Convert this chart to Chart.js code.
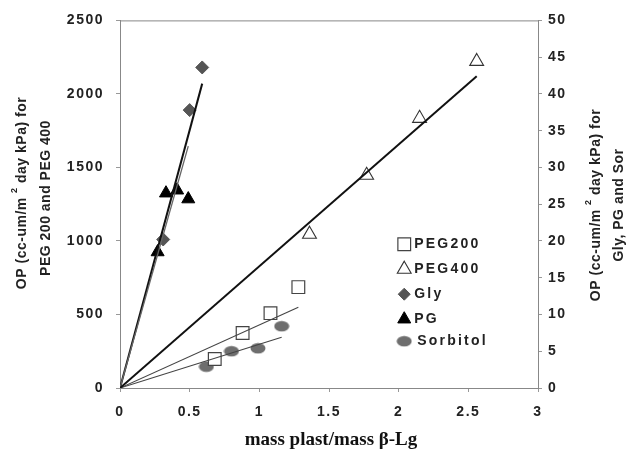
<!DOCTYPE html>
<html>
<head>
<meta charset="utf-8">
<script src="https://cdn.jsdelivr.net/npm/chart.js@4"></script>
<style>
  html, body { margin: 0; padding: 0; background: #fff; }
  #wrap { width: 629px; height: 460px; }
</style>
</head>
<body>
<div id="wrap"><canvas id="myChart" width="629" height="460"></canvas></div>
<script>
// values
const xPeg200 = [0.68, 0.88, 1.08, 1.28];
const yPeg200 = [197, 374, 509, 686];
const xPeg400 = [1.36, 1.77, 2.15, 2.56];
const yPeg400 = [1046, 1447, 1834, 2221];
const xGly = [0.31, 0.50, 0.59];
const yGly = [20.2, 37.8, 43.6];
const xPg = [0.27, 0.33, 0.41, 0.49];
const yPg = [18.5, 26.5, 26.9, 25.7];
const xSor = [0.62, 0.80, 0.99, 1.16];
const ySor = [2.9, 5.0, 5.4, 8.4];

// fitted lines (start at origin)
const fitPeg200 = [[0, 0], [1.28, 550]];
const fitPeg400 = [[0, 0], [2.56, 2120]];
const fitGly = [[0, 0], [0.59, 41.4]];
const fitPg = [[0, 0], [0.49, 32.9]];
const fitSor = [[0, 0], [1.16, 6.9]];

const legendNames = ["PEG200", "PEG400", "Gly", "PG", "Sorbitol"];

const toPts = (xs, ys) => xs.map((x, i) => ({ x: x, y: ys[i] }));
const fitPts = (f) => f.map(p => ({ x: p[0], y: p[1] }));

// ellipse marker for sorbitol
const ell = document.createElement("canvas");
ell.width = 16; ell.height = 12;
const ec = ell.getContext("2d");
ec.fillStyle = "#6e6e6e";
ec.beginPath();
ec.ellipse(8, 6, 7.5, 5.3, 0, 0, Math.PI * 2);
ec.fill();

const tickFont = { family: "Liberation Sans", size: 14, weight: "bold" };

const markerStyles = [
  { pointStyle: "rect", radius: 9, rotation: 0, borderWidth: 1.2, fill: "#fff", stroke: "#444" },
  { pointStyle: "triangle", radius: 8, rotation: 0, borderWidth: 1.1, fill: "#fff", stroke: "#333" },
  { pointStyle: "rectRot", radius: 6, rotation: 0, borderWidth: 1, fill: "#555", stroke: "#555" },
  { pointStyle: "triangle", radius: 7.5, rotation: 0, borderWidth: 1, fill: "#000", stroke: "#000" },
  { pointStyle: ell, radius: 7, rotation: 0, borderWidth: 0, fill: "#6e6e6e", stroke: "#6e6e6e" },
];

// rotated (reading upwards) title line with a superscript "2"
function titleLine(ctx, cx, cy, parts) {
  const big = "bold 14px 'Liberation Sans'";
  const small = "bold 9px 'Liberation Sans'";
  let w = 0;
  parts.forEach(p => { ctx.font = p.sup ? small : big; w += ctx.measureText(p.t).width; });
  ctx.save();
  ctx.translate(cx, cy);
  ctx.rotate(-Math.PI / 2);
  ctx.textAlign = "left";
  ctx.textBaseline = "middle";
  let x = -w / 2;
  parts.forEach(p => {
    ctx.font = p.sup ? small : big;
    ctx.fillText(p.t, x, p.sup ? -7 : 0);
    x += ctx.measureText(p.t).width;
  });
  ctx.restore();
}

const line1 = [{ t: "OP (cc-um/m " }, { t: "2", sup: true }, { t: " day kPa) for" }];

const extras = {
  id: "extras",
  beforeDraw(chart) {
    chart.ctx.letterSpacing = "1.5px";
  },
  afterDraw(chart) {
    const ctx = chart.ctx;
    const a = chart.chartArea;
    const sx = chart.scales.x, sy = chart.scales.y;
    ctx.save();
    ctx.letterSpacing = "0px";
    // top border
    ctx.strokeStyle = "#888";
    ctx.lineWidth = 1;
    ctx.beginPath();
    ctx.moveTo(a.left, a.top + 0.5);
    ctx.lineTo(a.right, a.top + 0.5);
    ctx.stroke();

    // x axis title
    ctx.fillStyle = "#111";
    ctx.font = "bold 19px 'Liberation Serif'";
    ctx.textAlign = "center";
    ctx.textBaseline = "middle";
    ctx.fillText("mass plast/mass \u03B2-Lg", (a.left + a.right) / 2 + 2, 440);

    // legend inside plot
    const lx = sx.getPixelForValue(2.04);
    let ly = sy.getPixelForValue(978);
    ctx.font = "bold 14px 'Liberation Sans'";
    ctx.letterSpacing = "2.2px";
    ctx.textBaseline = "middle";
    ctx.textAlign = "left";
    legendNames.forEach((name, i) => {
      const m = markerStyles[i];
      ctx.fillStyle = m.fill;
      ctx.strokeStyle = m.stroke;
      ctx.lineWidth = m.borderWidth;
      Chart.helpers.drawPoint(ctx, m, lx, ly);
      ctx.fillStyle = "#222";
      ctx.fillText(name, lx + (i === 4 ? 13 : 10), ly);
      ly += i === 3 ? 22 : 25;
    });

    // y axis titles
    ctx.letterSpacing = "0.5px";
    ctx.fillStyle = "#222";
    titleLine(ctx, 22, 193, line1);
    titleLine(ctx, 46, 198, [{ t: "PEG 200 and PEG 400" }]);
    titleLine(ctx, 596, 205, line1);
    titleLine(ctx, 619, 205, [{ t: "Gly, PG and Sor" }]);
    ctx.restore();
  }
};

const data = {
  datasets: [
    { label: "fitPeg400", data: fitPts(fitPeg400), type: "line", yAxisID: "y",
      borderColor: "#111", borderWidth: 2, pointRadius: 0 },
    { label: "fitPeg200", data: fitPts(fitPeg200), type: "line", yAxisID: "y",
      borderColor: "#444", borderWidth: 1.1, pointRadius: 0 },
    { label: "fitSor", data: fitPts(fitSor), type: "line", yAxisID: "y2",
      borderColor: "#444", borderWidth: 1.1, pointRadius: 0 },
    { label: "fitPg", data: fitPts(fitPg), type: "line", yAxisID: "y2",
      borderColor: "#666", borderWidth: 1.3, pointRadius: 0 },
    { label: "fitGly", data: fitPts(fitGly), type: "line", yAxisID: "y2",
      borderColor: "#111", borderWidth: 2, pointRadius: 0 },
    { label: "PEG200", data: toPts(xPeg200, yPeg200), yAxisID: "y",
      pointStyle: "rect", pointRadius: 9, borderWidth: 1.2,
      borderColor: "#444", backgroundColor: "#fff" },
    { label: "PEG400", data: toPts(xPeg400, yPeg400), yAxisID: "y",
      pointStyle: "triangle", pointRadius: 8, borderWidth: 1.1,
      borderColor: "#333", backgroundColor: "#fff" },
    { label: "Gly", data: toPts(xGly, yGly), yAxisID: "y2",
      pointStyle: "rectRot", pointRadius: 6.5, borderWidth: 1,
      borderColor: "#555", backgroundColor: "#555" },
    { label: "PG", data: toPts(xPg, yPg), yAxisID: "y2",
      pointStyle: "triangle", pointRadius: 7.5, borderWidth: 1,
      borderColor: "#000", backgroundColor: "#000" },
    { label: "Sorbitol", data: toPts(xSor, ySor), yAxisID: "y2",
      pointStyle: ell, pointRadius: 8, borderWidth: 0,
      borderColor: "#6e6e6e", backgroundColor: "#6e6e6e" },
  ],
};

const fmt = (v) => String(v);

const config = {
  type: "scatter",
  data: data,
  options: {
    responsive: false,
    animation: false,
    layout: { padding: { top: 20, right: 0, left: 0, bottom: 0 } },
    plugins: {
      legend: { display: false },
      tooltip: { enabled: false },
    },
    scales: {
      x: {
        type: "linear",
        min: 0, max: 3,
        ticks: { stepSize: 0.5, color: "#222", font: tickFont, padding: 12, callback: fmt },
        grid: { display: true, drawOnChartArea: false, drawTicks: true, tickLength: 4, color: "#999" },
        border: { color: "#888" },
        afterFit: (s) => { s.height = 72; },
      },
      y: {
        type: "linear",
        position: "left",
        min: 0, max: 2500,
        ticks: { stepSize: 500, color: "#222", font: tickFont, padding: 12, callback: fmt },
        grid: { display: true, drawOnChartArea: false, drawTicks: true, tickLength: 4, color: "#999" },
        border: { color: "#888" },
        afterFit: (s) => { s.width = 120; },
      },
      y2: {
        type: "linear",
        position: "right",
        min: 0, max: 50,
        ticks: { stepSize: 5, color: "#222", font: tickFont, padding: 6, callback: fmt },
        grid: { display: true, drawOnChartArea: false, drawTicks: true, tickLength: 4, color: "#999" },
        border: { color: "#888" },
        afterFit: (s) => { s.width = 91; },
      },
    },
  },
  plugins: [extras],
};

var myChart = new Chart(document.getElementById("myChart"), config);
</script>
</body>
</html>
